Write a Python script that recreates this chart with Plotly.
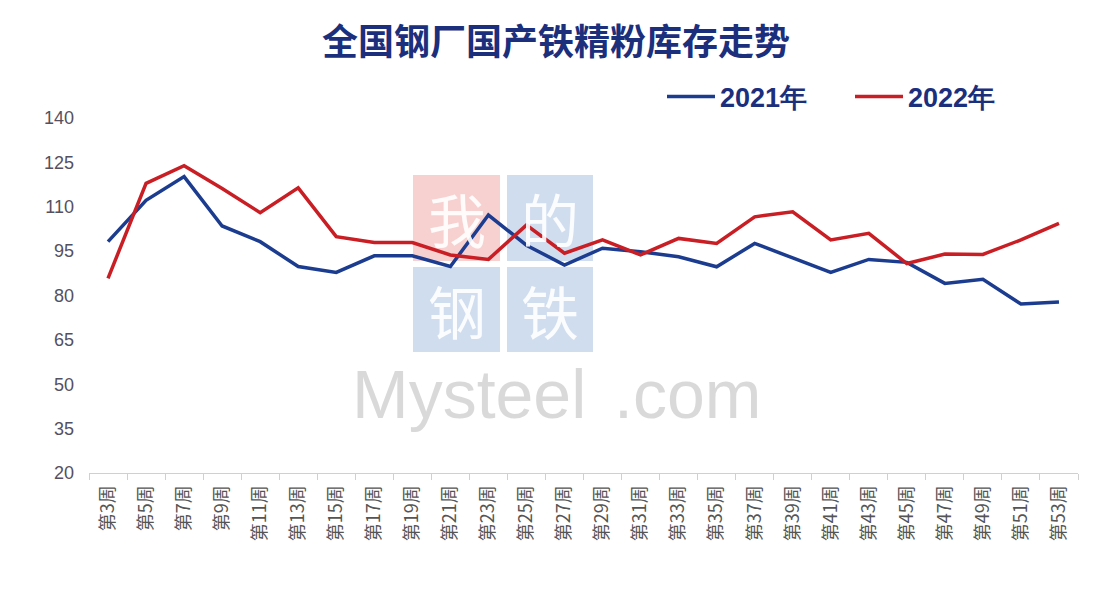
import plotly.graph_objects as go

weeks = [f"第{w}周" for w in range(3, 54, 2)]
y2021 = [98.2, 112.2, 120.2, 103.5, 98.2, 89.8, 87.8, 93.4, 93.4, 89.8, 107.2, 97.0,
         90.3, 96.0, 94.8, 93.1, 89.7, 97.6, 92.7, 87.8, 92.2, 91.2, 84.1, 85.5, 77.1, 77.8]
y2022 = [85.8, 117.9, 123.9, 116.2, 108.0, 116.4, 99.9, 97.9, 97.9, 93.7, 92.2, 103.8,
         94.3, 98.8, 93.7, 99.3, 97.6, 106.6, 108.3, 98.8, 101.0, 90.8, 94.0, 93.9, 98.8, 104.4]
series_names = ["2021年", "2022年"]
y_ticks = [20, 35, 50, 65, 80, 95, 110, 125, 140]

BLUE = "#1b3c8f"
RED = "#c81e24"
NAVY = "#1b2f7c"

# page has an 8px body margin; work in screen pixels and convert
OFF = 8
W, H = 1100, 598
SL, SR, ST, SB = 89, 1078, 118, 473  # plot area in screen pixels
L, R, T, B = SL - OFF, SR - OFF, ST - OFF, SB - OFF

fig = go.Figure()
fig.add_trace(go.Scatter(x=weeks, y=y2021, name=series_names[0], mode="lines",
                         line=dict(color=BLUE, width=3.5)))
fig.add_trace(go.Scatter(x=weeks, y=y2022, name=series_names[1], mode="lines",
                         line=dict(color=RED, width=3.5)))


def px(x):
    return (x - SL) / (SR - SL)


def py(y):
    return (SB - y) / (SB - ST)


shapes = []
annotations = []
boxes = [
    (413, 500, 175, 261, "rgba(238,150,150,0.45)", "我"),
    (507, 593, 175, 261, "rgba(150,180,220,0.45)", "的"),
    (413, 500, 267, 352, "rgba(150,180,220,0.45)", "钢"),
    (507, 593, 267, 352, "rgba(150,180,220,0.45)", "铁"),
]
for x0, x1, y0, y1, col, ch in boxes:
    shapes.append(dict(type="rect", xref="paper", yref="paper", x0=px(x0), x1=px(x1),
                       y0=py(y1), y1=py(y0), fillcolor=col, line=dict(width=0), layer="below"))
    annotations.append(dict(xref="paper", yref="paper", x=px((x0 + x1) / 2), y=py((y0 + y1) / 2),
                            text=ch, showarrow=False, xanchor="center", yanchor="middle",
                            font=dict(family="Noto Sans CJK SC", size=58, color="rgba(255,255,255,0.9)")))
annotations.append(dict(xref="paper", yref="paper", x=px(350), y=py(354), text="Mysteel",
                        showarrow=False, xanchor="left", yanchor="top",
                        font=dict(family="Liberation Sans", size=68, color="rgba(185,185,185,0.55)")))
annotations.append(dict(xref="paper", yref="paper", x=px(612), y=py(354), text=".com",
                        showarrow=False, xanchor="left", yanchor="top",
                        font=dict(family="Liberation Sans", size=68, color="rgba(185,185,185,0.55)")))

fig.update_layout(
    width=W, height=H,
    margin=dict(l=L, r=W - R, t=T, b=H - B, autoexpand=False),
    paper_bgcolor="white", plot_bgcolor="white",
    title=dict(text="<b>全国钢厂国产铁精粉库存走势</b>", x=(556 - OFF) / W, xref="container",
               y=1 - (42 - OFF) / H, yref="container", xanchor="center", yanchor="middle",
               font=dict(family="Noto Sans CJK SC", size=36, color=NAVY)),
    legend=dict(orientation="h", x=px(662), y=py(97), xanchor="left", yanchor="middle",
                font=dict(family="Liberation Sans", size=27, color=NAVY, weight="bold"),
                bgcolor="rgba(0,0,0,0)", itemwidth=48, entrywidth=125, entrywidthmode="pixels"),
    showlegend=True,
    shapes=shapes,
    annotations=annotations,
)
fig.update_xaxes(
    type="category", range=[-0.5, len(weeks) - 0.5], showgrid=False,
    showline=True, linecolor="#d0d0d0", linewidth=1,
    ticks="outside", tickson="boundaries", ticklen=6, tickcolor="#d0d0d0",
    tickangle=-90, tickfont=dict(family="Noto Sans CJK SC", size=18, color="#555555"),
    ticklabelstandoff=4,
)
fig.update_yaxes(
    range=[20, 140], tickvals=y_ticks, showgrid=False, zeroline=False, showline=False,
    tickfont=dict(family="Liberation Sans", size=18, color="#555060"),
    ticklabelstandoff=14,
)

fig.write_html("out.html")
